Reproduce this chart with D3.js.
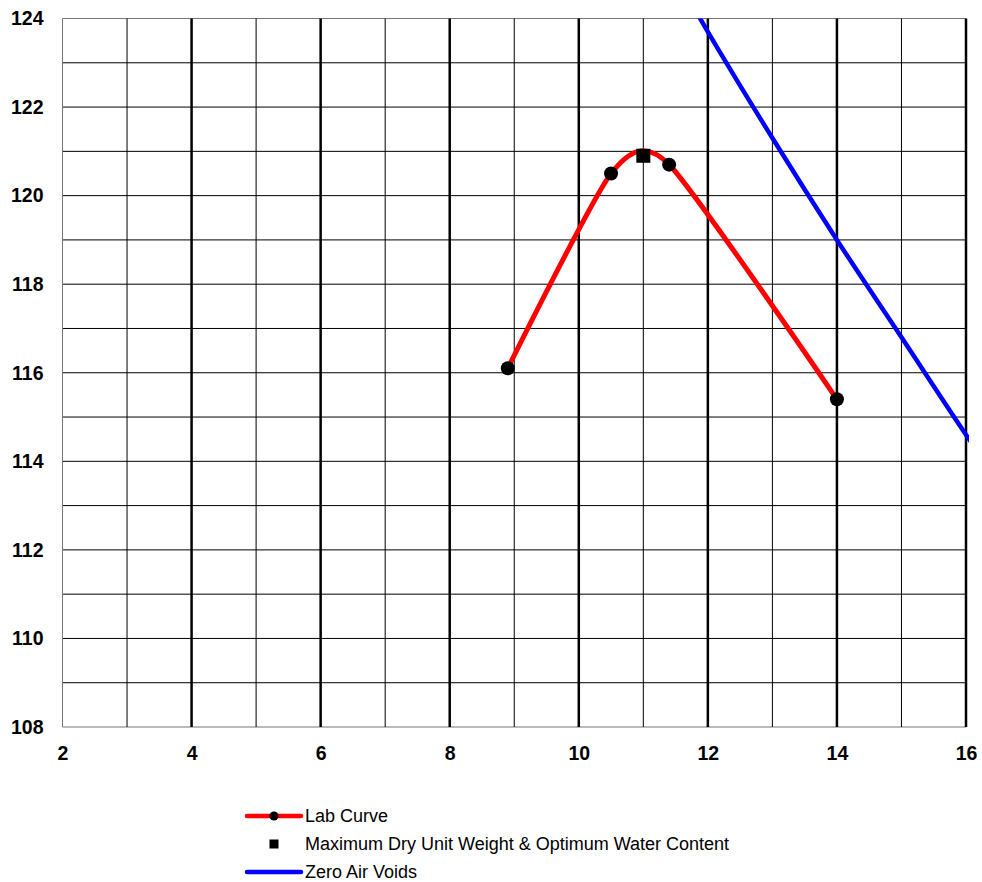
<!DOCTYPE html>
<html>
<head>
<meta charset="utf-8">
<script src="https://cdn.jsdelivr.net/npm/d3@7"></script>
<style>
  body { margin: 0; background: #fff; }
  text { font-family: "Liberation Sans", Arial, sans-serif; }
</style>
</head>
<body>
<div id="wrapper"></div>
<script>
// data
const labWater = [8.9, 10.5, 11.4, 14.0];
const labDensity = [116.1, 120.5, 120.7, 115.4];
const maxWater = [11.0];
const maxDensity = [120.9];
const zavWater = [11.5, 12, 13, 14, 15, 16, 16.5];
const zavDensity = [125.0, 123.7, 121.3, 119.0, 116.8, 114.6, 113.6];
const xTicks = [2, 4, 6, 8, 10, 12, 14, 16];
const yTicks = [108, 110, 112, 114, 116, 118, 120, 122, 124];
const legendLabels = ['Lab Curve', 'Maximum Dry Unit Weight & Optimum Water Content', 'Zero Air Voids'];

const dimensions = {
  width: 982,
  height: 882,
  margin: {top: 18.5, right: 16, bottom: 155, left: 62.5},
};
dimensions.boundedWidth = dimensions.width - dimensions.margin.left - dimensions.margin.right;
dimensions.boundedHeight = dimensions.height - dimensions.margin.top - dimensions.margin.bottom;

const svg = d3.select('#wrapper').append('svg')
  .attr('width', dimensions.width)
  .attr('height', dimensions.height);

const bounds = svg.append('g')
  .attr('transform', `translate(${dimensions.margin.left},${dimensions.margin.top})`);

const x = d3.scaleLinear().domain([2, 16]).range([0, dimensions.boundedWidth]);
const y = d3.scaleLinear().domain([108, 124]).range([dimensions.boundedHeight, 0]);

// grid: every unit, thick vertical lines at even values
bounds.selectAll('.hgrid')
  .data(d3.range(108, 125))
  .join('line')
  .attr('x1', 0).attr('x2', dimensions.boundedWidth)
  .attr('y1', d => y(d)).attr('y2', d => y(d))
  .attr('stroke', d => (d === 124 || d === 108) ? '#777' : '#000')
  .attr('stroke-width', 1);

bounds.selectAll('.vgrid')
  .data(d3.range(2, 17))
  .join('line')
  .attr('x1', d => x(d)).attr('x2', d => x(d))
  .attr('y1', 0).attr('y2', dimensions.boundedHeight)
  .attr('stroke', d => d === 2 ? '#777' : '#000')
  .attr('stroke-width', d => (d % 2 === 0 && d !== 2) ? 2.5 : 1);

// axis labels
const xAxis = d3.axisBottom(x).tickValues(xTicks).tickSize(0).tickPadding(19);
bounds.append('g')
  .attr('transform', `translate(0,${dimensions.boundedHeight})`)
  .call(xAxis)
  .call(g => g.select('.domain').remove())
  .selectAll('text')
  .attr('font-size', 19.5).attr('font-weight', 'bold').attr('fill', '#000')
  .style('font-family', '"Liberation Sans", Arial, sans-serif');

const yAxis = d3.axisLeft(y).tickValues(yTicks).tickSize(0).tickPadding(19);
bounds.append('g')
  .call(yAxis)
  .call(g => g.select('.domain').remove())
  .selectAll('text')
  .attr('font-size', 19.5).attr('font-weight', 'bold').attr('fill', '#000')
  .style('font-family', '"Liberation Sans", Arial, sans-serif');

// clip for data lines
svg.append('defs').append('clipPath').attr('id', 'plotClip')
  .append('rect')
  .attr('width', dimensions.boundedWidth + 3)
  .attr('height', dimensions.boundedHeight);

const line = d3.line()
  .x(d => x(d[0]))
  .y(d => y(d[1]));

const zav = zavWater.map((w, i) => [w, zavDensity[i]]);
bounds.append('path')
  .attr('clip-path', 'url(#plotClip)')
  .attr('d', line.curve(d3.curveCatmullRom.alpha(0))(zav))
  .attr('fill', 'none')
  .attr('stroke', '#0000ff')
  .attr('stroke-width', 4.5);

const lab = labWater.map((w, i) => [w, labDensity[i]]);
bounds.append('path')
  .attr('d', line.curve(d3.curveCardinal.tension(0.35))(lab))
  .attr('fill', 'none')
  .attr('stroke', '#ff0000')
  .attr('stroke-width', 5);

bounds.selectAll('.labPoint')
  .data(lab)
  .join('circle')
  .attr('cx', d => x(d[0]))
  .attr('cy', d => y(d[1]))
  .attr('r', 7)
  .attr('fill', '#000');

const sq = 14;
bounds.selectAll('.maxPoint')
  .data(maxWater.map((w, i) => [w, maxDensity[i]]))
  .join('rect')
  .attr('x', d => x(d[0]) - sq / 2)
  .attr('y', d => y(d[1]) - sq / 2)
  .attr('width', sq).attr('height', sq)
  .attr('fill', '#000');

// legend
const legend = svg.append('g').attr('transform', 'translate(247,816)');
const rowGap = 28;

legend.append('line')
  .attr('x1', 0).attr('x2', 54).attr('y1', 0).attr('y2', 0)
  .attr('stroke', '#ff0000').attr('stroke-width', 4.5).attr('stroke-linecap', 'round');
legend.append('circle').attr('cx', 27).attr('cy', 0).attr('r', 4.5).attr('fill', '#000');

legend.append('rect')
  .attr('x', 22.5).attr('y', rowGap - 4.5).attr('width', 9).attr('height', 9)
  .attr('fill', '#000');

legend.append('line')
  .attr('x1', 0).attr('x2', 54).attr('y1', rowGap * 2).attr('y2', rowGap * 2)
  .attr('stroke', '#0000ff').attr('stroke-width', 4.5).attr('stroke-linecap', 'round');

legend.selectAll('.legendText')
  .data(legendLabels)
  .join('text')
  .attr('x', 58)
  .attr('y', (d, i) => i * rowGap)
  .attr('dy', '0.35em')
  .attr('font-size', 18)
  .attr('fill', '#000')
  .text(d => d);
</script>
</body>
</html>
